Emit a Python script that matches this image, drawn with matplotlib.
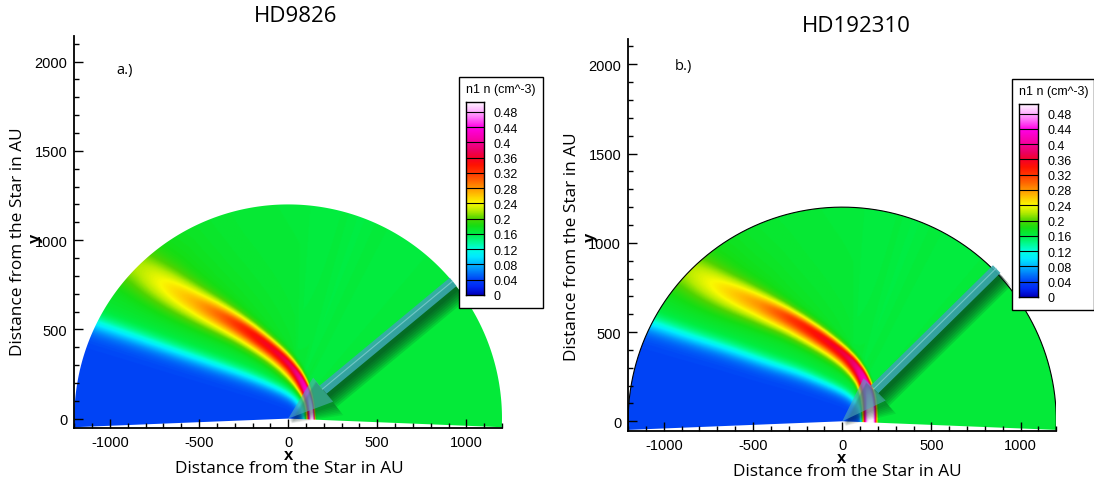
import numpy as np
import matplotlib
matplotlib.use("Agg")
import matplotlib.pyplot as plt
from matplotlib.colors import LinearSegmentedColormap
from matplotlib.patches import Polygon, Rectangle
from matplotlib.ticker import MultipleLocator, FixedLocator

W, H = 1094, 485

# ---------------------------------------------------------------- colour scale
legend_title = "n1 n (cm^-3)"
level_values = [0.00, 0.04, 0.08, 0.12, 0.16, 0.20, 0.24, 0.28, 0.32, 0.36, 0.40, 0.44, 0.48]
level_labels = ["0", "0.04", "0.08", "0.12", "0.16", "0.2", "0.24", "0.28",
                "0.32", "0.36", "0.4", "0.44", "0.48"]
n_top = 0.505

cmap_stops = [0.000, 0.020, 0.040, 0.080, 0.100, 0.120, 0.140, 0.160, 0.180,
              0.200, 0.220, 0.240, 0.260, 0.280, 0.300, 0.320, 0.340, 0.360,
              0.380, 0.400, 0.440, 0.460, 0.480, 0.505]
cmap_rgb = [(0, 0, 190), (0, 40, 245), (0, 68, 246), (0, 185, 255), (0, 235, 255),
            (0, 255, 220), (0, 250, 140), (0, 238, 68), (20, 222, 20),
            (80, 212, 0), (180, 235, 0), (250, 250, 0), (255, 200, 0), (255, 150, 0),
            (255, 100, 0), (255, 55, 0), (255, 20, 0), (245, 0, 40), (235, 0, 100),
            (245, 0, 150), (255, 0, 230), (255, 90, 245), (255, 170, 255), (255, 245, 255)]

# ---------------------------------------------------------------- model tables
n_cavity = 0.04      # depleted downstream region
n_sheath = 0.17      # between cavity edge and the hydrogen wall
bg_theta = [0, 48, 52, 60, 64, 70, 74, 82, 86, 185]       # upstream level vs polar angle
bg_n = [0.165, 0.165, 0.162, 0.162, 0.165, 0.161, 0.164, 0.162, 0.165, 0.165]

# HD9826: hydrogen wall crest (AU) with crest density, inner/outer widths (AU),
# profile sharpness and the faint outer tail
star_a = "HD9826"
tag_a = "a.)"
wall_x_a = [138, 138, 136, 129, 119, 100, 70, 30, -20, -80, -160, -255, -380, -520, -680, -820, -960, -1100]
wall_y_a = [-80, 0, 50, 100, 140, 185, 235, 290, 340, 390, 450, 515, 585, 655, 745, 835, 925, 1015]
wall_n_a = [0.50, 0.50, 0.50, 0.48, 0.45, 0.42, 0.40, 0.38, 0.37, 0.36, 0.35, 0.33, 0.30, 0.27,
            0.245, 0.222, 0.21, 0.20]
wall_win_a = [28, 28, 28, 30, 35, 42, 48, 54, 58, 62, 68, 76, 88, 100, 115, 130, 140, 150]
wall_wout_a = [14, 14, 14, 15, 17, 20, 24, 28, 32, 36, 41, 48, 60, 75, 90, 100, 110, 120]
wall_p_a = [3.0, 3.0, 3.0, 2.8, 2.6, 2.4, 2.2, 2.0, 2.0, 2.0, 2.0, 2.0, 2.0, 2.0, 2.0, 2.0, 2.0, 2.0]
wall_tail_a = [0, 0, 0, 0, 0, 0, 0.003, 0.006, 0.009, 0.012, 0.015, 0.018, 0.022, 0.026, 0.03,
               0.03, 0.03, 0.03]
wall_tailw_a = [40, 40, 40, 40, 50, 60, 80, 100, 120, 140, 160, 180, 200, 220, 240, 250, 250, 250]
# cavity edge (cyan band)
cav_x_a = [92, 92, 80, 50, 0, -60, -140, -241, -400, -635, -850, -1085, -1300]
cav_y_a = [-80, 0, 60, 110, 140, 170, 205, 245, 300, 380, 455, 535, 610]
cav_w_a = [10, 10, 12, 15, 18, 20, 22, 24, 26, 28, 30, 32, 34]
arrow_tail_a = (926, 766)

# HD192310
star_b = "HD192310"
tag_b = "b.)"
wall_x_b = [160, 160, 161, 156, 131, 84, 28, -47, -122, -290, -467, -700, -850, -1000, -1150]
wall_y_b = [-80, 0, 70, 150, 237, 311, 370, 425, 480, 580, 660, 760, 840, 925, 1010]
wall_n_b = [0.505, 0.505, 0.50, 0.47, 0.42, 0.39, 0.37, 0.36, 0.35, 0.32, 0.28, 0.245,
            0.222, 0.21, 0.20]
wall_win_b = [45, 45, 45, 45, 48, 54, 58, 62, 68, 80, 95, 115, 130, 140, 150]
wall_wout_b = [30, 30, 30, 28, 26, 28, 31, 35, 39, 48, 65, 85, 100, 110, 120]
wall_p_b = [4.0, 4.0, 4.0, 3.5, 3.0, 2.5, 2.2, 2.0, 2.0, 2.0, 2.0, 2.0, 2.0, 2.0, 2.0]
wall_tail_b = [0, 0, 0, 0, 0, 0.004, 0.007, 0.01, 0.013, 0.018, 0.024, 0.03, 0.03, 0.03, 0.03]
wall_tailw_b = [40, 40, 40, 40, 50, 80, 100, 120, 140, 170, 200, 230, 250, 250, 250]
cav_x_b = [120, 120, 105, 70, 10, -60, -150, -250, -420, -650, -870, -1060, -1300]
cav_y_b = [-80, 0, 70, 125, 165, 195, 235, 275, 330, 410, 480, 545, 620]
cav_w_b = [10, 10, 12, 15, 18, 20, 22, 24, 26, 28, 30, 32, 34]
arrow_tail_b = (866, 853)

# simulation domain
r_outer = 1200.0
theta_min, theta_max = -2.3, 182.3

cmap = LinearSegmentedColormap.from_list(
    "n1n", [(s / n_top, tuple(c / 255 for c in rgb)) for s, rgb in zip(cmap_stops, cmap_rgb)])

plt.rcParams["font.family"] = ["Liberation Sans", "DejaVu Sans"]
plt.rcParams["axes.unicode_minus"] = False
LABEL_FONT = ["Open Sans", "DejaVu Sans"]

# ---------------------------------------------------------------- field
gx = np.arange(-1212, 1212.1, 3.0)
gy = np.arange(-72, 1212.1, 3.0)
GX, GY = np.meshgrid(gx, gy)


def dense_curve(xs, ys, spacing=4.0, smooth=31):
    xs, ys = np.asarray(xs, float), np.asarray(ys, float)
    cx, cy, cu = [], [], []
    for i in range(len(xs) - 1):
        seg = np.hypot(xs[i + 1] - xs[i], ys[i + 1] - ys[i])
        m = max(int(seg / spacing), 1)
        t = np.arange(m) / m
        cx.append(xs[i] + t * (xs[i + 1] - xs[i]))
        cy.append(ys[i] + t * (ys[i + 1] - ys[i]))
        cu.append(i + t)
    cx = np.concatenate(cx + [[xs[-1]]])
    cy = np.concatenate(cy + [[ys[-1]]])
    cu = np.concatenate(cu + [[len(xs) - 1]])
    # two passes of a moving average round off the corners between nodes
    ker = np.ones(smooth) / smooth
    pad = smooth // 2
    for _ in range(2):
        cx = np.convolve(np.pad(cx, pad, mode="reflect", reflect_type="odd"), ker, mode="valid")
        cy = np.convolve(np.pad(cy, pad, mode="reflect", reflect_type="odd"), ker, mode="valid")
    return cx, cy, cu


def signed_distance(xs, ys):
    """Signed distance of every grid point from a curve (negative on the star side)
    and the fractional node index of the closest curve point."""
    cx, cy, cu = dense_curve(xs, ys)
    tx, ty = np.gradient(cx), np.gradient(cy)
    tn = np.hypot(tx, ty)
    tx, ty = tx / tn, ty / tn
    px, py = GX.ravel(), GY.ravel()
    idx = np.empty(px.size, dtype=int)
    dist = np.empty(px.size)
    for i in range(0, px.size, 4000):
        dx = px[i:i + 4000, None] - cx[None, :]
        dy = py[i:i + 4000, None] - cy[None, :]
        d2 = dx * dx + dy * dy
        j = d2.argmin(axis=1)
        idx[i:i + 4000] = j
        dist[i:i + 4000] = np.sqrt(d2[np.arange(j.size), j])
    cross = tx[idx] * (py - cy[idx]) - ty[idx] * (px - cx[idx])
    sd = np.where(cross > 0, -dist, dist)
    return sd.reshape(GX.shape), cu[idx].reshape(GX.shape)


def density_field(wx, wy, wn, win, wout, wp, wtail, wtailw, cx, cy, cw):
    d, u = signed_distance(wx, wy)
    dc, uc = signed_distance(cx, cy)
    nodes = np.arange(len(wx))

    def along(vals):
        return np.interp(u, nodes, vals)

    peak, wi, wo, p = along(wn), along(win), along(wout), along(wp)
    tn, tw = along(wtail), along(wtailw)
    wc = np.interp(uc, np.arange(len(cx)), cw)

    th = np.degrees(np.arctan2(GY, GX))
    th = np.where(th < -90, th + 360, th)
    bg = np.interp(th, bg_theta, bg_n)

    base = n_cavity + (n_sheath - n_cavity) / (1 + np.exp(-np.clip(dc / wc, -50, 50)))
    inner = base + (peak - base) * np.exp(-(np.abs(d) / wi) ** p)
    dp = np.maximum(d, 0)
    outer = (bg + (peak - bg) * np.exp(-(dp / wo) ** p)
             + tn * (1 - np.exp(-(dp / wo) ** 2)) * np.exp(-dp / tw))
    return np.where(d < 0, inner, outer)


field_a = density_field(wall_x_a, wall_y_a, wall_n_a, wall_win_a, wall_wout_a, wall_p_a,
                        wall_tail_a, wall_tailw_a, cav_x_a, cav_y_a, cav_w_a)
field_b = density_field(wall_x_b, wall_y_b, wall_n_b, wall_win_b, wall_wout_b, wall_p_b,
                        wall_tail_b, wall_tailw_b, cav_x_b, cav_y_b, cav_w_b)

# ---------------------------------------------------------------- figure
fig = plt.figure(figsize=(W / 100, H / 100), dpi=100)


def fx(px):
    return px / W


def fy(py):
    return 1 - py / H


def add_axes_px(left, top, right, bottom, **kw):
    return fig.add_axes([fx(left), fy(bottom), (right - left) / W, (bottom - top) / H], **kw)


def draw_arrow(ax, tail):
    T = np.array(tail, dtype=float)
    u = T / np.hypot(*T)           # unit vector from the star towards the tail
    n = np.array([-u[1], u[0]])
    head_len, head_hw, shaft_hw = 255.0, 88.0, 30.0
    base = u * head_len
    # soft drop shadow, lower right of the arrow
    for k in range(7):
        off = np.array([14 + 4 * k, -22 - 5 * k])
        g = 5 * k
        sh = [T + n * (shaft_hw + g) + off, base + n * (shaft_hw + g) + off,
              base - n * (shaft_hw + g) + off, T - n * (shaft_hw + g) + off]
        ax.add_patch(Polygon(sh, closed=True, facecolor="#06241a", edgecolor="none",
                             alpha=0.13, zorder=3))
        hd = [base + n * (head_hw + g) + off, off * 0.5, base - n * (head_hw + g) + off]
        ax.add_patch(Polygon(hd, closed=True, facecolor="#06241a", edgecolor="none",
                             alpha=0.08, zorder=3))
    shaft = [T + n * shaft_hw, base + n * shaft_hw, base - n * shaft_hw, T - n * shaft_hw]
    head = [base + n * head_hw, np.zeros(2), base - n * head_hw]
    ax.add_patch(Polygon(shaft, closed=True, facecolor="#3aa9ad", edgecolor="none",
                         alpha=0.9, zorder=4))
    ax.plot([T[0] + n[0] * 5, base[0] + n[0] * 5], [T[1] + n[1] * 5, base[1] + n[1] * 5],
            color="#8ccfd8", lw=0.8, alpha=0.7, zorder=5)
    ax.add_patch(Polygon(head, closed=True, facecolor="#4fabb8", edgecolor="none",
                         alpha=0.6, zorder=4))


def draw_panel(ax, field, tail, outline):
    im = ax.imshow(field, extent=(gx[0] - 1.5, gx[-1] + 1.5, gy[0] - 1.5, gy[-1] + 1.5),
                   origin="lower", cmap=cmap, vmin=0, vmax=n_top,
                   interpolation="bilinear", aspect="auto", zorder=1)
    th = np.radians(np.linspace(theta_min, theta_max, 400))
    arc_x, arc_y = r_outer * np.cos(th), r_outer * np.sin(th)
    wedge = Polygon(np.column_stack([np.r_[arc_x, 0.0], np.r_[arc_y, 0.0]]), closed=True,
                    facecolor="none", edgecolor="none", transform=ax.transData)
    ax.add_patch(wedge)
    im.set_clip_path(wedge)
    if outline:
        ax.plot(arc_x, arc_y, color="black", lw=0.8, zorder=2)
    draw_arrow(ax, tail)

    ax.set_xlim(-1200, 1200)
    ax.xaxis.set_major_locator(FixedLocator([-1000, -500, 0, 500, 1000]))
    ax.yaxis.set_major_locator(FixedLocator([0, 500, 1000, 1500, 2000]))
    ax.xaxis.set_minor_locator(MultipleLocator(100))
    ax.yaxis.set_minor_locator(MultipleLocator(100))
    ax.tick_params(which="both", direction="in", top=False, right=False, width=1.0,
                   color="black")
    ax.tick_params(which="major", length=6.5, labelsize=10.5, pad=5)
    ax.tick_params(which="minor", length=3.6)
    for s in ("top", "right"):
        ax.spines[s].set_visible(False)
    for s in ("left", "bottom"):
        ax.spines[s].set_linewidth(1.3)
    ax.set_facecolor("white")


def draw_legend(box, bar):
    l, t, r, b = box
    fig.add_artist(Rectangle((fx(l), fy(b)), (r - l) / W, (b - t) / H,
                             transform=fig.transFigure, facecolor="white",
                             edgecolor="black", lw=1.0, zorder=2))
    bl, bt, br, bb = bar
    cax = add_axes_px(bl, bt, br, bb, zorder=3)
    grad = np.linspace(0, n_top, 400).reshape(-1, 1)
    cax.imshow(grad, extent=(0, 1, 0, n_top), origin="lower", aspect="auto",
               cmap=cmap, vmin=0, vmax=n_top)
    for v in level_values[1:]:
        cax.axhline(v, color="black", lw=0.8)
    cax.set_xlim(0, 1)
    cax.set_ylim(0, n_top)
    cax.set_xticks([])
    cax.yaxis.tick_right()
    cax.set_yticks(level_values)
    cax.set_yticklabels(level_labels)
    cax.tick_params(axis="y", length=0, pad=7, labelsize=9)
    for s in cax.spines.values():
        s.set_linewidth(1.0)
    fig.text(fx(bl), fy(bt - 13), legend_title, fontsize=9, ha="left", va="center", zorder=4)


AXIS_TEXT = "Distance from the Star in AU"

# panel a
ax_a = add_axes_px(74.3, 37.3, 502.0, 428.6)
draw_panel(ax_a, field_a, arrow_tail_a, outline=False)
ax_a.set_ylim(-50.4, 2142)
ax_a.text(-919, 1955, tag_a, family=LABEL_FONT, fontsize=10.5, ha="center", va="center")
draw_legend((458.6, 77.7, 543.0, 309.0), (466.0, 103.3, 484.0, 296.0))
fig.text(fx(296), fy(17), star_a, family=LABEL_FONT, fontsize=16, ha="center", va="center")
fig.text(fx(289), fy(469), AXIS_TEXT, family=LABEL_FONT, fontsize=12.4, ha="center", va="center")
fig.text(fx(18), fy(242), AXIS_TEXT, family=LABEL_FONT, fontsize=12.4, ha="center",
         va="center", rotation=90)
fig.text(fx(289), fy(456), "x", fontsize=12, fontweight="bold", ha="center", va="center")
fig.text(fx(35), fy(238), "y", fontsize=12, fontweight="bold", ha="center", va="center",
         rotation=90)

# panel b
ax_b = add_axes_px(628.1, 40.0, 1056.3, 431.7)
draw_panel(ax_b, field_b, arrow_tail_b, outline=True)
ax_b.set_ylim(-52.7, 2142)
ax_b.text(-889, 1992, tag_b, family=LABEL_FONT, fontsize=10.5, ha="center", va="center")
draw_legend((1011.8, 80.0, 1093.5, 311.0), (1019.4, 105.0, 1037.8, 298.0))
fig.text(fx(856), fy(26.7), star_b, family=LABEL_FONT, fontsize=16, ha="center", va="center")
fig.text(fx(847), fy(472), AXIS_TEXT, family=LABEL_FONT, fontsize=12.4, ha="center", va="center")
fig.text(fx(572), fy(247), AXIS_TEXT, family=LABEL_FONT, fontsize=12.4, ha="center",
         va="center", rotation=90)
fig.text(fx(842), fy(459), "x", fontsize=12, fontweight="bold", ha="center", va="center")
fig.text(fx(590), fy(237), "y", fontsize=12, fontweight="bold", ha="center", va="center",
         rotation=90)

fig.savefig("out.png", dpi=100, facecolor="white")
